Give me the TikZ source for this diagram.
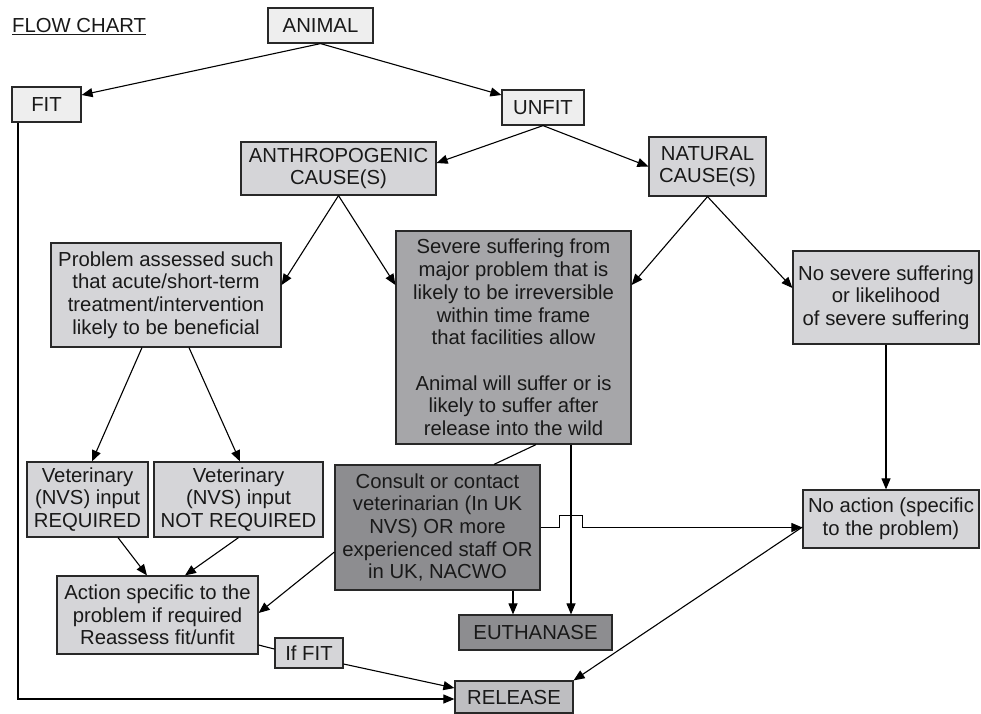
\documentclass[tikz,border=0pt]{standalone}
\usepackage{fontspec}
\setmainfont{Liberation Sans}
\usetikzlibrary{arrows.meta}
\definecolor{palebox}{RGB}{238,238,238}
\definecolor{lightbox}{RGB}{213,213,216}
\definecolor{midbox}{RGB}{190,190,193}
\definecolor{darkbox}{RGB}{166,166,169}
\definecolor{deepbox}{RGB}{141,141,144}
\definecolor{edgegray}{RGB}{40,40,40}

\begin{document}
\begin{tikzpicture}[x=1pt, y=-1pt,
  box/.style={draw=edgegray, line width=1.2pt, rectangle, inner sep=2pt, align=center,
    text=black!90, font=\fontsize{20.3}{22.7}\selectfont},
  arr/.style={-{Triangle[length=11pt,width=9pt]}, line width=1.1pt},
  link/.style={line width=1.1pt}]
  \useasboundingbox (0,0) rectangle (981,713);

  % Top of the chart
  \node[anchor=west, inner sep=0, text=black!90, font=\fontsize{20.3}{22.7}\selectfont] (title) at (12,27) {\underline{FLOW CHART}};
  \node[box, fill=palebox, minimum width=105pt, minimum height=35pt] (animal) at (320.5,25.5) {ANIMAL};
  \node[box, fill=palebox, minimum width=69pt, minimum height=35pt] (fit) at (46.5,104.5) {FIT};
  \node[box, fill=palebox, minimum width=82pt, minimum height=35pt] (unfit) at (543,107.5) {UNFIT};

  % Causes
  \node[box, fill=lightbox, minimum width=195pt, minimum height=53pt] (anthro) at (338.5,168.5) {ANTHROPOGENIC\\CAUSE(S)};
  \node[box, fill=lightbox, minimum width=117pt, minimum height=59pt] (natural) at (707.5,166.5) {NATURAL\\CAUSE(S)};

  % Assessment
  \node[box, fill=lightbox, minimum width=230pt, minimum height=104pt] (problem) at (166,295) {Problem assessed such\\that acute/short-term\\treatment/intervention\\likely to be beneficial};
  \node[box, fill=darkbox, minimum width=235pt, minimum height=213pt] (severe) at (513.5,337.5) {Severe suffering from\\major problem that is\\likely to be irreversible\\within time frame\\that facilities allow\\[22.7pt]Animal will suffer or is\\likely to suffer after\\release into the wild};
  \node[box, fill=lightbox, minimum width=186pt, minimum height=93pt] (nosevere) at (886,297.5) {No severe suffering\\or likelihood\\of severe suffering};

  % Outcomes
  \node[box, fill=lightbox, minimum width=121pt, minimum height=75pt] (vetreq) at (87.5,499.5) {Veterinary\\(NVS) input\\REQUIRED};
  \node[box, fill=lightbox, minimum width=169pt, minimum height=75pt] (vetnot) at (238.5,499.5) {Veterinary\\(NVS) input\\NOT REQUIRED};
  \node[box, fill=deepbox, minimum width=205pt, minimum height=125pt] (consult) at (437.5,527.5) {Consult or contact\\veterinarian (In UK\\NVS) OR more\\experienced staff OR\\in UK, NACWO};
  \node[box, fill=lightbox, minimum width=176pt, minimum height=58pt] (noaction) at (891,519) {No action (specific\\to the problem)};
  \node[box, fill=lightbox, minimum width=201pt, minimum height=78pt] (action) at (157.5,615) {Action specific to the\\problem if required\\Reassess fit/unfit};
  \node[box, fill=lightbox, minimum width=68pt, minimum height=30pt] (iffit) at (309,653) {If FIT};
  \node[box, fill=deepbox, minimum width=153pt, minimum height=35pt] (euth) at (535.5,632.5) {EUTHANASE};
  \node[box, fill=midbox, minimum width=118pt, minimum height=32pt] (release) at (514,697) {RELEASE};

  % Fit / unfit split
  \draw[arr] (animal.south) -- ([yshift=9.5pt]fit.east);
  \draw[arr] (animal.south) -- ([yshift=12.5pt]unfit.west);
  \draw[arr] (unfit.south) -- ([yshift=5.5pt]anthro.east);
  \draw[arr] (unfit.south) -- (natural.west);
  \draw[arr] (anthro.south) -- ([yshift=10pt]problem.east);
  \draw[arr] (anthro.south) -- ([yshift=52.5pt]severe.west);
  \draw[arr] (natural.south) -- ([yshift=52.5pt]severe.east);
  \draw[arr] (natural.south) -- ([yshift=9.5pt]nosevere.west);

  % Left branch
  \draw[arr] ([xshift=-24pt]problem.south) -- ([xshift=4.5pt]vetreq.north);
  \draw[arr] ([xshift=23pt]problem.south) -- ([xshift=1.5pt]vetnot.north);
  \draw[arr] ([xshift=30.5pt]vetreq.south) -- ([xshift=-10.5pt]action.north);
  \draw[arr] (vetnot.south) -- ([xshift=27.5pt]action.north);
  \draw[arr] ([yshift=-24.5pt]consult.west) -- ([yshift=2pt]action.east);

  % Middle branch
  \draw[link] ([xshift=22.5pt]severe.south) -- ([xshift=56.5pt]consult.north);
  \draw[arr] ([xshift=57.5pt]severe.south) -- ([xshift=35.5pt]euth.north);
  \draw[arr] ([xshift=75.5pt]consult.south) -- ([xshift=-22.5pt]euth.north);
  \draw[arr] (consult.east) -- ++(19,0) -- ++(0,-12) -- ++(23,0) -- ++(0,12) -- (consult.east -| noaction.west);

  % Right branch
  \draw[arr] (nosevere.south) -- (nosevere.south |- noaction.north);
  \draw[arr] ([yshift=-8pt]noaction.west) -- (release.north east);

  % Back to release
  \draw[link] ([yshift=-30pt]action.east) -- ([yshift=4pt]iffit.west);
  \draw[arr] ([yshift=-11pt]iffit.east) -- ([yshift=9pt]release.west);
  \draw[arr] ([xshift=-28.5pt]fit.south) |- ([yshift=-2pt]release.west);
\end{tikzpicture}
\end{document}
